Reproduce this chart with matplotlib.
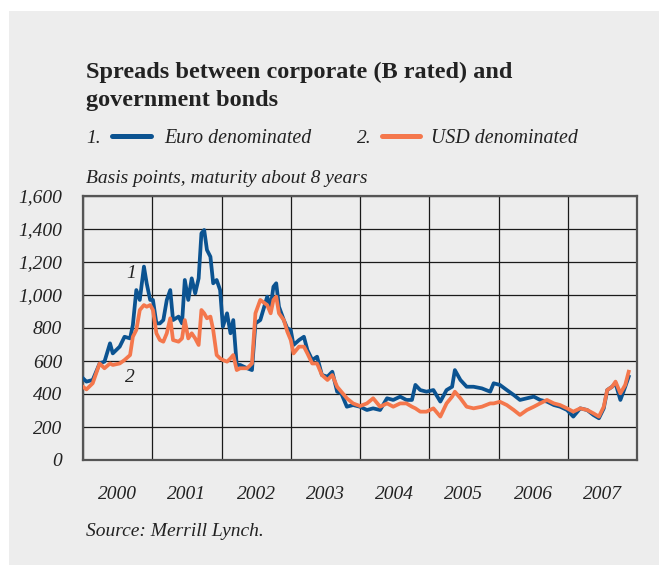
import numpy as np
import matplotlib.pyplot as plt
from matplotlib.lines import Line2D
from matplotlib.patches import Rectangle
from matplotlib.ticker import FuncFormatter

plt.rcParams['font.family'] = ['Liberation Serif', 'DejaVu Serif']

# Spreads in basis points, read at irregular dates (decimal years)
years = [2000.00, 2000.05, 2000.14, 2000.24, 2000.31, 2000.39, 2000.43, 2000.53, 2000.60, 2000.68,
         2000.72, 2000.77, 2000.82, 2000.88, 2000.92, 2000.97, 2001.01, 2001.06, 2001.11, 2001.16,
         2001.21, 2001.26, 2001.30, 2001.38, 2001.43, 2001.47, 2001.52, 2001.57, 2001.62, 2001.67,
         2001.71, 2001.75, 2001.79, 2001.84, 2001.88, 2001.93, 2001.98, 2002.02, 2002.08, 2002.13,
         2002.17, 2002.22, 2002.27, 2002.37, 2002.44, 2002.49, 2002.56, 2002.66, 2002.71, 2002.75,
         2002.79, 2002.83, 2002.90, 2002.95, 2003.00, 2003.04, 2003.12, 2003.19, 2003.24, 2003.31,
         2003.38, 2003.45, 2003.53, 2003.60, 2003.67,
         2003.73, 2003.81, 2003.90, 2004.00, 2004.10, 2004.19, 2004.29, 2004.39, 2004.48, 2004.58,
         2004.67, 2004.75, 2004.80, 2004.87, 2004.96, 2005.06, 2005.16, 2005.25, 2005.33, 2005.37,
         2005.45, 2005.54, 2005.64, 2005.76, 2005.88, 2005.93, 2006.02, 2006.12, 2006.22, 2006.31,
         2006.41, 2006.51, 2006.60, 2006.70, 2006.80, 2006.89, 2006.99, 2007.08, 2007.18, 2007.28,
         2007.37, 2007.45, 2007.52, 2007.57, 2007.64, 2007.69, 2007.76, 2007.83, 2007.88]

euro = [495, 475, 485, 585, 596, 707, 646, 687, 747, 737,
        818, 1030, 970, 1172, 1070, 970, 970, 828, 828, 848,
        970, 1030, 848, 869, 828, 1091, 970, 1101, 1010, 1101,
        1374, 1394, 1273, 1232, 1071, 1091, 1030, 808, 889, 768,
        848, 576, 576, 556, 545, 828, 848, 990, 929, 1050,
        1071, 929, 848, 798, 788, 697, 727, 747, 667, 606,
        626, 515, 505, 535, 414,
        404, 323, 333, 323, 303, 313, 303, 374, 364, 384,
        364, 364, 455, 424, 414, 424, 354, 424, 444, 545,
        485, 444, 444, 434, 414, 465, 455, 424, 394, 364,
        374, 384, 364, 354, 333, 323, 303, 263, 313, 303,
        273, 253, 313, 424, 444, 465, 364, 444, 505]

usd = [444, 428, 465, 585, 556, 585, 576, 585, 606, 636,
       747, 788, 909, 939, 929, 939, 909, 768, 727, 717,
       768, 859, 727, 717, 737, 848, 737, 768, 737, 697,
       909, 889, 859, 869, 788, 636, 616, 606, 596, 616,
       636, 545, 556, 556, 585, 889, 970, 939, 889, 970,
       990, 889, 848, 778, 727, 646, 687, 687, 646, 585,
       585, 515, 485, 515, 444,
       414, 374, 343, 327, 343, 374, 323, 343, 323, 343,
       343, 323, 313, 293, 293, 313, 263, 343, 384, 414,
       374, 323, 313, 323, 343, 343, 353, 333, 303, 273,
       303, 323, 343, 364, 343, 333, 313, 293, 313, 303,
       283, 263, 323, 424, 444, 475, 404, 455, 535]

year_labels = ['2000', '2001', '2002', '2003', '2004', '2005', '2006', '2007']

blue = '#0b5391'
orange = '#f4774c'
bg = '#ededed'
W, H = 659, 565

fig = plt.figure(figsize=(W / 100, H / 100), dpi=100)
fig.patch.set_facecolor('white')
fig.patches.append(Rectangle((9 / W, 0), 1, 1 - 11 / H, transform=fig.transFigure,
                             facecolor=bg, edgecolor='none', zorder=-10))


def px(x, y):
    return x / W, 1 - y / H


ax = fig.add_axes([83 / W, 1 - 460 / H, 554 / W, 264 / H])
ax.set_facecolor(bg)
ax.plot(years, euro, color=blue, lw=2.7, solid_joinstyle='round', zorder=3)
ax.plot(years, usd, color=orange, lw=2.7, solid_joinstyle='round', zorder=4)

ax.set_xlim(2000, 2008)
ax.set_ylim(0, 1600)
ax.set_yticks(np.arange(0, 1601, 200))
ax.yaxis.set_major_formatter(FuncFormatter(lambda v, p: f'{int(v):,}'))
ax.set_xticks(np.arange(2000, 2009))
ax.set_xticklabels([])
ax.set_xticks(np.arange(2000.5, 2008, 1), minor=True)
ax.set_xticklabels(year_labels, minor=True)
ax.tick_params(axis='both', which='both', length=0, labelsize=14, colors='#222222')
ax.tick_params(axis='y', pad=15)
ax.tick_params(axis='x', which='minor', pad=19)
for lab in ax.get_yticklabels() + ax.get_xticklabels(minor=True):
    lab.set_fontstyle('italic')

ax.grid(True, which='major', color='#1a1a1a', lw=0.9)
ax.set_axisbelow(True)
for s in ax.spines.values():
    s.set_color('#555555')
    s.set_linewidth(1.6)

ax.text(2000.62, 1100, '1', fontsize=14, style='italic', color='#222222')
ax.text(2000.60, 470, '2', fontsize=14, style='italic', color='#222222')

# heading, legend and notes
fig.text(*px(86, 78), 'Spreads between corporate (B rated) and', fontsize=17.5,
         fontweight='bold', color='#222222', va='baseline')
fig.text(*px(86, 106), 'government bonds', fontsize=17.5,
         fontweight='bold', color='#222222', va='baseline')

fig.text(*px(86, 143), '1.', fontsize=14, style='italic', color='#222222', va='baseline')
fig.lines.append(Line2D([112 / W, 151 / W], [1 - 136 / H] * 2, transform=fig.transFigure,
                        color=blue, lw=3.6, solid_capstyle='round'))
fig.text(*px(164, 143), 'Euro denominated', fontsize=14.3, style='italic', color='#222222', va='baseline')
fig.text(*px(357, 143), '2.', fontsize=14, style='italic', color='#222222', va='baseline')
fig.lines.append(Line2D([382 / W, 420 / W], [1 - 136 / H] * 2, transform=fig.transFigure,
                        color=orange, lw=3.6, solid_capstyle='round'))
fig.text(*px(431, 143), 'USD denominated', fontsize=14.3, style='italic', color='#222222', va='baseline')

fig.text(*px(86, 183), 'Basis points, maturity about 8 years', fontsize=14, style='italic',
         color='#222222', va='baseline')
fig.text(*px(86, 536), 'Source: Merrill Lynch.', fontsize=14, style='italic',
         color='#222222', va='baseline')

fig.savefig('out.png', dpi=100, facecolor=fig.get_facecolor())
